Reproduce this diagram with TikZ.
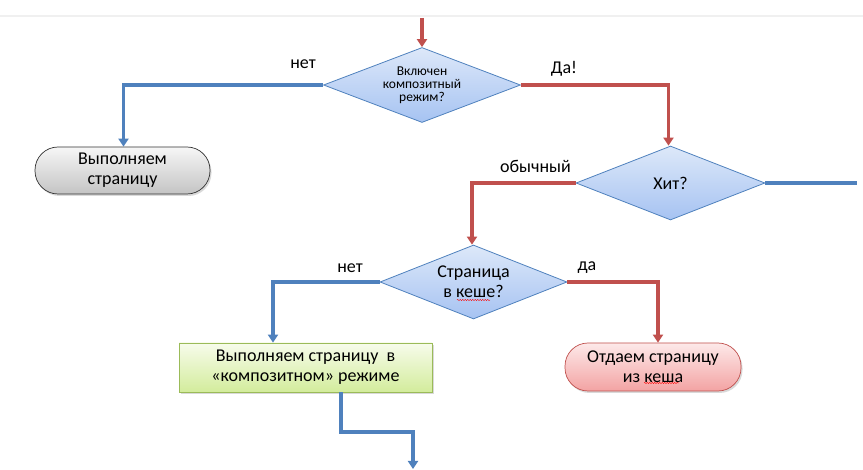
\documentclass[tikz,border=0pt]{standalone}
\usepackage{fontspec}
\setmainfont{Carlito}
\usetikzlibrary{shapes.geometric,arrows.meta,shadows,decorations.pathmorphing}
\definecolor{cred}{HTML}{C0504D}
\definecolor{cblue}{HTML}{4F81BD}
\definecolor{dtop}{HTML}{DDE8F9}
\definecolor{dbot}{HTML}{A6C3F2}
\definecolor{gtop}{HTML}{F6F6F6}
\definecolor{gbot}{HTML}{C4C4C4}
\definecolor{ltop}{HTML}{F7FCEB}
\definecolor{lbot}{HTML}{D3EC9C}
\definecolor{lborder}{HTML}{9BBB59}
\definecolor{rtop}{HTML}{FDE9E9}
\definecolor{rbot}{HTML}{F3A3A3}
\begin{document}
\begin{tikzpicture}[x=1pt,y=-1pt,
  txt/.style={font=\fontsize{18}{20}\selectfont},
  dec/.style={diamond, aspect=2.55, draw=cblue, line width=0.8pt, shading=axis, top color=dtop, bottom color=dbot,
    inner sep=0pt, align=center, txt},
  shad/.style={drop shadow={opacity=0.3, shadow xshift=1.5pt, shadow yshift=-2pt}},
  term/.style={rectangle, rounded corners=23pt, align=center, inner sep=0pt, txt, shad},
  redline/.style={draw=cred, line width=3.3pt},
  blueline/.style={draw=cblue, line width=3.3pt},
  arr/.style={-{Triangle[length=8pt,width=10pt]}},
  lbl/.style={txt, inner sep=0pt},
  wavy/.style={draw=red, line width=0.4pt, decorate, decoration={snake, amplitude=0.6pt, segment length=2.5pt}}
]
\useasboundingbox (0,0) rectangle (863,470);
\draw[gray!12, line width=1.5pt] (0,16) -- (863,16);

% nodes
\node[dec, minimum width=197pt, minimum height=75pt, font=\fontsize{13.5}{12.8}\selectfont] (d1) at (422,85) {Включен\\композитный\\режим?};
\node[term, draw=black!80, line width=0.7pt, shading=axis, top color=gtop, bottom color=gbot,
  minimum width=175pt, minimum height=47pt] (t1) at (122.5,170.5) {Выполняем\\страницу};
\node[dec, minimum width=189pt, minimum height=74pt] (d2) at (670.5,183) {Хит?};
\node[dec, minimum width=187pt, minimum height=74pt] (d3) at (473.5,282) {Страница\\в кеше?};
\node[rectangle, draw=lborder, line width=0.7pt, shading=axis, top color=ltop, bottom color=lbot,
  minimum width=253pt, minimum height=49pt, align=center, inner sep=0pt, txt, shad] (g) at (305.5,367.5)
  {Выполняем страницу~~в\\«композитном» режиме};
\node[term, draw=cred, line width=0.7pt, shading=axis, top color=rtop, bottom color=rbot,
  minimum width=176pt, minimum height=48pt] (r) at (653,367) {Отдаем страницу\\из кеша};

% labels
\node[lbl] (l1) at (303,64) {нет};
\node[lbl] (l2) at (564,69) {Да!};
\node[lbl] (l3) at (535.5,166) {обычный};
\node[lbl] (l4) at (350,268) {нет};
\node[lbl] (l5) at (587,268) {да};

% coordinates
\coordinate (top) at (422,18);
\coordinate (hitend) at (857,183);
\coordinate (bend) at (413,432);
\coordinate (bottom) at (413,469);

% connectors
\draw[redline, arr] (top) -- (d1.north);
\draw[blueline, arr] (d1.west) -| ([xshift=1pt]t1.north);
\draw[redline, arr] (d1.east) -| ([xshift=-2pt]d2.north);
\draw[blueline] (d2.east) -- (hitend);
\draw[redline, arr] (d2.west) -| ([xshift=-1.5pt]d3.north);
\draw[blueline, arr] (d3.west) -| ([xshift=-32.5pt]g.north);
\draw[redline, arr] (d3.east) -| ([xshift=5pt]r.north);
\draw[blueline, arr] ([xshift=35.5pt]g.south) |- (bend) -- (bottom);

% spell-check underlines
\draw[wavy] (457,300) -- (490,300);
\draw[wavy] (644,383) -- (679,383);
\end{tikzpicture}
\end{document}
